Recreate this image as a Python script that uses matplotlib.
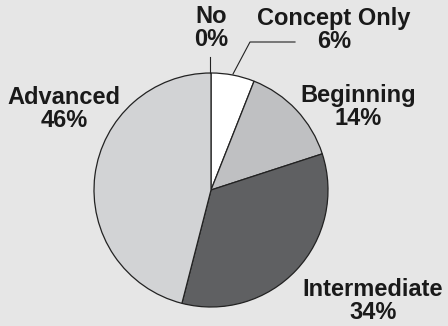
import matplotlib.pyplot as plt

labels = ["No", "Concept Only", "Beginning", "Intermediate", "Advanced"]
values = [0, 6, 14, 34, 46]
colors = ["#ffffff", "#ffffff", "#bfc0c2", "#5f6062", "#d2d3d5"]

W, H = 448, 326
fig = plt.figure(figsize=(W / 100, H / 100), dpi=100)
fig.patch.set_facecolor("#e6e6e6")
ax = fig.add_axes([0, 0, 1, 1])

cx, cy, r = 211, H - 190, 117
ax.pie(values, colors=colors, startangle=90, counterclock=False,
       center=(cx, cy), radius=r, frame=True,
       wedgeprops=dict(edgecolor="#222222", linewidth=0.9))
ax.set_xlim(0, W)
ax.set_ylim(0, H)
ax.set_aspect("equal")
ax.axis("off")

font = dict(family="Liberation Sans", fontweight="bold", fontsize=17,
            color="#1a1a1a", ha="center", va="center", linespacing=0.98)

# label positions in pixel coords (x, y from top)
pos = {
    "No": (211, 28),
    "Concept Only": (334, 30),
    "Beginning": (358, 107),
    "Intermediate": (373, 301),
    "Advanced": (64, 109),
}
for lab, v in zip(labels, values):
    x, y = pos[lab]
    ax.text(x, H - y, f"{lab}\n{v}%", **font)

# leader lines
ax.plot([210, 210], [H - 57, H - 73], color="#222222", lw=0.8)
ax.plot([295, 250, 233], [H - 42, H - 42, H - 74], color="#222222", lw=0.8)

fig.savefig("out.png", dpi=100, facecolor=fig.get_facecolor())
